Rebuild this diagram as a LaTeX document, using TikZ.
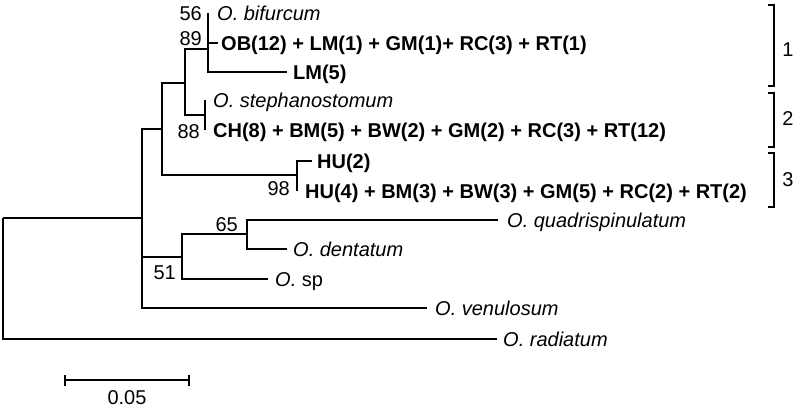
\documentclass[tikz,border=0pt]{standalone}
\usepackage{fontspec}
\setmainfont{Liberation Sans}
\usetikzlibrary{positioning}
\newcommand{\treesize}{\fontsize{20}{23}\selectfont}
\tikzset{
  branch/.style={line width=1.3pt},
  lbl/.style={inner sep=0pt, text height=14pt, text depth=0pt, font=\treesize},
  taxon/.style={lbl, font=\treesize\itshape},
  haplo/.style={lbl, font=\treesize\bfseries},
  boot/.style={lbl, anchor=east},
}
\begin{document}
\begin{tikzpicture}[x=1pt,y=-1pt]
            \useasboundingbox (0,0) rectangle (796,408);
            % inner nodes
            \coordinate (root) at (3,218);
            \coordinate (nB) at (142,218);
            \coordinate (nC) at (162,129);
            \coordinate (nF) at (185,83);
            \coordinate (nH) at (208,49);
            \coordinate (nG) at (205,115);
            \coordinate (nI) at (297,175);
            \coordinate (nD) at (182,257);
            \coordinate (nE) at (247,234);

            % tips
            \coordinate (bif) at (208,13);
            \coordinate (ob) at (218,43);
            \coordinate (lm) at (287,72);
            \coordinate (ste) at (205,100);
            \coordinate (ch) at (205,130);
            \coordinate (hua) at (312,161);
            \coordinate (hub) at (297,191);
            \coordinate (qua) at (498,220);
            \coordinate (den) at (287,249);
            \coordinate (osp) at (268,279);
            \coordinate (ven) at (427,308);
            \coordinate (rad) at (497,339);

            \draw[branch] (root) |- (nB);
            \draw[branch] (root) |- (rad);
            \draw[branch] (nB) |- (nC);
            \draw[branch] (nB) |- (nD);
            \draw[branch] (nB) |- (ven);
            \draw[branch] (nC) |- (nF);
            \draw[branch] (nC) |- (nI);
            \draw[branch] (nF) |- (nH);
            \draw[branch] (nF) |- (nG);
            \draw[branch] (nH) |- (bif);
            \draw[branch] (nH) |- (ob);
            \draw[branch] (nH) |- (lm);
            \draw[branch] (nG) |- (ste);
            \draw[branch] (nG) |- (ch);
            \draw[branch] (nI) |- (hua);
            \draw[branch] (nI) |- (hub);
            \draw[branch] (nD) |- (nE);
            \draw[branch] (nD) |- (osp);
            \draw[branch] (nE) |- (qua);
            \draw[branch] (nE) |- (den);

            \node[taxon, right=9pt of bif] (tbif) {O. bifurcum};
            \node[haplo, right=3pt of ob] (tob) {OB(12) + LM(1) + GM(1)+ RC(3) + RT(1)};
            \node[haplo, right=6pt of lm] (tlm) {LM(5)};
            \node[taxon, right=8pt of ste] (tste) {O. stephanostomum};
            \node[haplo, right=8pt of ch] (tch) {CH(8) + BM(5) + BW(2) + GM(2) + RC(3) + RT(12)};
            \node[haplo, right=5pt of hua] (thua) {HU(2)};
            \node[haplo, right=8pt of hub] (thub) {HU(4) + BM(3) + BW(3) + GM(5) + RC(2) + RT(2)};
            \node[taxon, right=9pt of qua] (tqua) {O. quadrispinulatum};
            \node[taxon, right=6pt of den] (tden) {O. dentatum};
            \node[lbl, right=7pt of osp] (tosp) {\textit{O.} sp};
            \node[taxon, right=8pt of ven] (tven) {O. venulosum};
            \node[taxon, right=6pt of rad] (trad) {O. radiatum};

            \node[boot] (b56) at (202,13) {56};
            \node[boot] (b89) at (202,38) {89};
            \node[boot] (b88) at (200,131) {88};
            \node[boot] (b98) at (290,188) {98};
            \node[boot] (b65) at (238,224) {65};
            \node[boot] (b51) at (176,272) {51};

            % groups
            \coordinate (g1a) at (774,5);
            \coordinate (g1b) at (774,86);
            \coordinate (g2a) at (774,93);
            \coordinate (g2b) at (774,147);
            \coordinate (g3a) at (774,153);
            \coordinate (g3b) at (774,207);
            \draw[branch] ([xshift=-6pt]g1a) -- (g1a) -- (g1b) -- ([xshift=-6pt]g1b);
            \draw[branch] ([xshift=-6pt]g2a) -- (g2a) -- (g2b) -- ([xshift=-6pt]g2b);
            \draw[branch] ([xshift=-6pt]g3a) -- (g3a) -- (g3b) -- ([xshift=-6pt]g3b);
            \node[lbl] (l1) at (788,49) {1};
            \node[lbl] (l2) at (788,118) {2};
            \node[lbl] (l3) at (788,179) {3};

            % scale bar
            \coordinate (sa) at (65,380);
            \coordinate (sb) at (189,380);
            \draw[branch] (sa) -- (sb);
            \draw[branch] ([yshift=-5.5pt]sa) -- ([yshift=5.5pt]sa);
            \draw[branch] ([yshift=-5.5pt]sb) -- ([yshift=5.5pt]sb);
            \node[lbl] (sbar) at (127,397) {0.05};
        \end{tikzpicture}
\end{document}
